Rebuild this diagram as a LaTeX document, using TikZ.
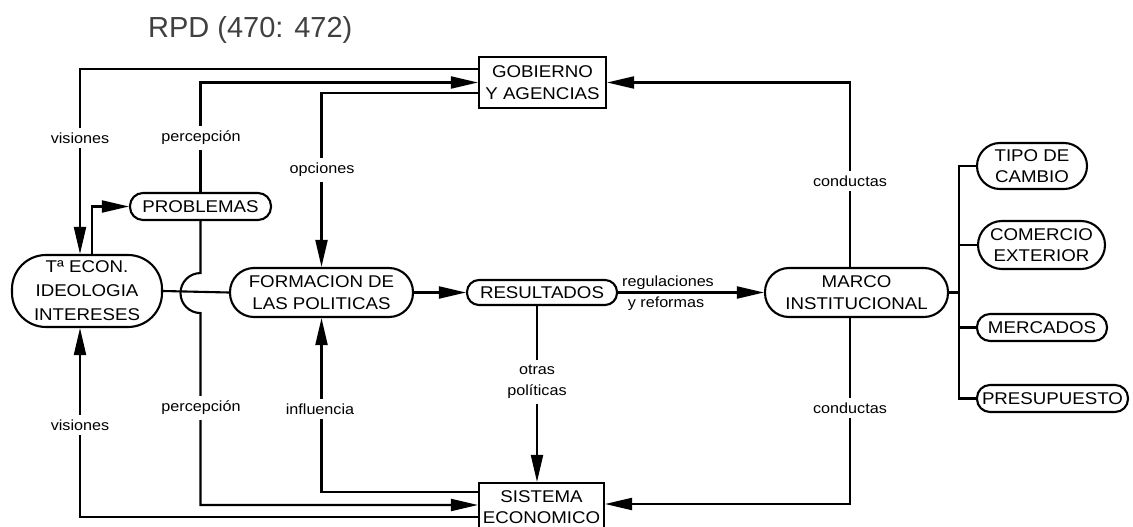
\documentclass[tikz,border=0pt]{standalone}
\usepackage{fontspec}
\setmainfont{Liberation Sans}[FakeStretch=1.1]
\newfontfamily\headfont{Liberation Sans}
\usetikzlibrary{arrows.meta}
\begin{document}
\begin{tikzpicture}[x=1pt,y=-1pt,
  every node/.style={inner sep=0pt},
  boxtext/.style={font=\fontsize{17}{21.5}\selectfont, align=center},
  pill/.style={boxtext, draw, line width=2.1pt, rectangle, rounded corners=#1},
  sqbox/.style={boxtext, draw, line width=2.1pt, rectangle},
  lbl/.style={font=\fontsize{14.7}{21}\selectfont, align=center, fill=white, inner xsep=2pt, inner ysep=5pt},
  link/.style={line width=2.1pt},
  arr/.style={link, -{Triangle[length=27pt,width=12pt]}}]
\useasboundingbox (0,0) rectangle (1133,527);

% title
\node[anchor=base west, font=\headfont\fontsize{29}{30}\selectfont, text=black!75] (title) at (148,38) {RPD (470: 472)};

% nodes
\node[sqbox, minimum width=127pt, minimum height=51pt] (gob) at (542.5,82.5) {GOBIERNO\\Y AGENCIAS};
\node[pill=34pt, minimum width=150pt, minimum height=72pt, font=\fontsize{17}{24}\selectfont] (teco) at (87,291) {Tª ECON.\\IDEOLOGIA\\INTERESES};
\node[pill=13pt, minimum width=141pt, minimum height=27pt] (prob) at (200.5,206.5) {PROBLEMAS};
\node[pill=24pt, minimum width=183pt, minimum height=49pt] (form) at (321.5,292.5) {FORMACION DE\\LAS POLITICAS};
\node[pill=12pt, minimum width=150pt, minimum height=25pt] (res) at (542,292.5) {RESULTADOS};
\node[pill=24pt, minimum width=183pt, minimum height=49pt] (marco) at (856.5,292.5) {MARCO\\INSTITUCIONAL};
\node[pill=23pt, minimum width=110pt, minimum height=46pt] (tipo) at (1032,166) {TIPO DE\\CAMBIO};
\node[pill=24pt, minimum width=127pt, minimum height=48pt] (comer) at (1041.5,245) {COMERCIO\\EXTERIOR};
\node[pill=13pt, minimum width=130pt, minimum height=27pt] (merc) at (1042,327.5) {MERCADOS};
\node[pill=13pt, minimum width=151pt, minimum height=27pt] (pres) at (1052.5,398.5) {PRESUPUESTO};
\node[sqbox, minimum width=125pt, minimum height=49pt, font=\fontsize{17}{21}\selectfont] (sis) at (541.5,507.5) {SISTEMA\\ECONOMICO};
\coordinate (tr) at (959,292.5);

% connectors
\draw[arr] ([yshift=13.5pt]gob.west) -| ([xshift=-7pt]teco.north);
\draw[arr] (prob.north) |- (gob.west);
\draw[arr] ([yshift=-10.5pt]gob.west) -| (form.north);
\draw[arr] ([xshift=5pt]teco.north) |- (prob.west);
\draw[link] (teco.east) -- (form.west);
\draw[arr] (prob.south) -- ++(0,52) arc[start angle=90, end angle=270, radius=20pt] |- ([yshift=2.5pt]sis.west);
\draw[arr] (form.east) -- (res.west);
\draw[arr] (res.east) -- (marco.west);
\draw[arr] ([xshift=-6.5pt]marco.north) |- (gob.east);
\draw[arr] ([xshift=-6.5pt]marco.south) |- ([yshift=3.5pt]sis.east);
\draw[arr] ([xshift=-5pt]res.south) -- ([xshift=-4.5pt]sis.north);
\draw[arr] ([yshift=15.5pt]sis.west) -| (form.south);
\draw[arr] ([yshift=-9.5pt]sis.west) -| ([xshift=-7pt]teco.south);

% branches to the institutional components
\draw[link] (marco.east) -- (tr);
\draw[link] (tipo.west) -| (tr) |- (pres.west);
\draw[link] (comer.west) -- (comer.west -| tr);
\draw[link] (merc.west) -- (merc.west -| tr);

% connector labels
\node[lbl] (l1) at (80,138) {visiones};
\node[lbl] (l2) at (201,138) {percepción};
\node[lbl] (l3) at (322,170) {opciones};
\node[lbl] (l4) at (850,181) {conductas};
\node[lbl, fill=none] (l5) at (668,283) {regulaciones};
\node[lbl, fill=none] (l6) at (666,304) {y reformas};
\node[lbl] (l7) at (201,408) {percepción};
\node[lbl] (l8) at (320,409) {influencia};
\node[lbl] (l9) at (80,425) {visiones};
\node[lbl] (l10) at (537,382) {otras\\políticas};
\node[lbl] (l11) at (850,408) {conductas};
\end{tikzpicture}
\end{document}
